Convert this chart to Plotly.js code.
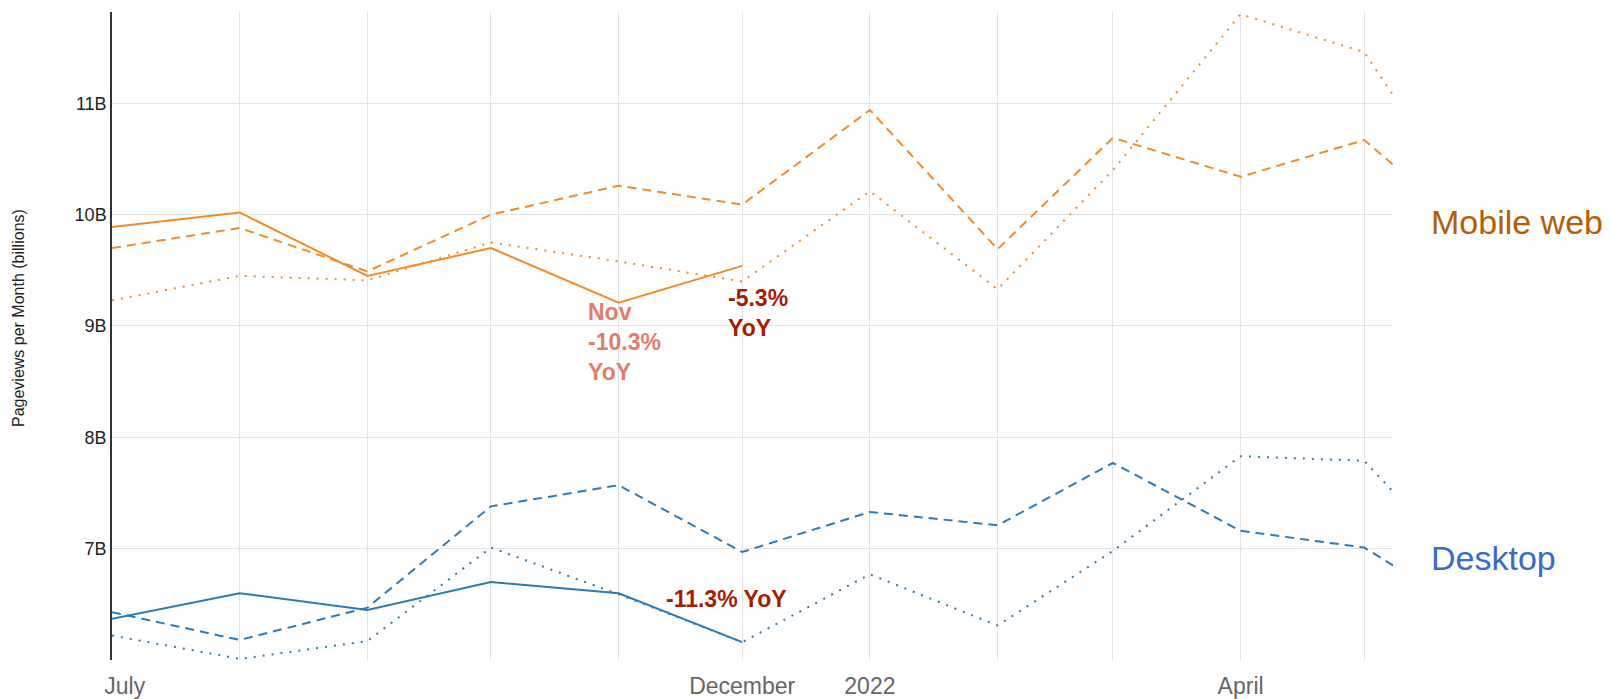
<!DOCTYPE html>
<html>
<head>
<meta charset="utf-8">
<script src="https://cdn.plot.ly/plotly-3.0.1.min.js"></script>
<style>
  html, body { margin: 0; padding: 0; background: #ffffff; }
  #chart { width: 1610px; height: 699px; }
</style>
</head>
<body>
<div id="chart"></div>
<script>
// Months (first of each month); the last entry lies beyond the visible range
const months = ['2021-07-01','2021-08-01','2021-09-01','2021-10-01','2021-11-01','2021-12-01',
                '2022-01-01','2022-02-01','2022-03-01','2022-04-01','2022-05-01','2022-06-01'];

// Pageviews per month, billions
const mobileCurrent  = [9.89, 10.02, 9.45, 9.70, 9.21, 9.54];
const mobilePrevYear = [9.70, 9.88, 9.49, 10.00, 10.26, 10.09, 10.94, 9.69, 10.69, 10.34, 10.67, 9.69];
const mobileTwoYears = [9.23, 9.45, 9.41, 9.75, 9.58, 9.40, 10.21, 9.33, 10.40, 11.80, 11.46, 9.75];

const desktopCurrent  = [6.37, 6.60, 6.45, 6.70, 6.60, 6.16];
const desktopPrevYear = [6.43, 6.18, 6.47, 7.38, 7.57, 6.97, 7.33, 7.21, 7.77, 7.16, 7.01, 6.30];
const desktopTwoYears = [6.22, 6.01, 6.17, 7.01, 6.59, 6.16, 6.77, 6.31, 6.98, 7.83, 7.79, 6.56];

// Axis ticks
const xTickVals = months.slice(0, 11);
const xTickText = ['\u00a0\u00a0\u00a0\u00a0July','','','','','December','2022','','','April',''];
const yTickVals = [7, 8, 9, 10, 11];
const yTickText = ['7B','8B','9B','10B','11B'];

const ORANGE = '#f68a28';
const BLUE = '#2b7bba';
const DOT = '2px,7px';
const DASH = '9px,6px';

function tr(y, color, dash, name) {
  return {
    x: months.slice(0, y.length), y: y, type: 'scatter', mode: 'lines', name: name,
    line: { color: color, width: 2, dash: dash }, hoverinfo: 'x+y+name'
  };
}

const data = [
  tr(mobileTwoYears, ORANGE, DOT, 'Mobile web (two years earlier)'),
  tr(mobilePrevYear, ORANGE, DASH, 'Mobile web (previous year)'),
  tr(mobileCurrent, ORANGE, 'solid', 'Mobile web'),
  tr(desktopTwoYears, BLUE, DOT, 'Desktop (two years earlier)'),
  tr(desktopPrevYear, BLUE, DASH, 'Desktop (previous year)'),
  tr(desktopCurrent, BLUE, 'solid', 'Desktop')
];

const FONT = 'Liberation Sans, Arial, sans-serif';

const layout = {
  width: 1610, height: 699,
  margin: { l: 112, r: 217, t: 12, b: 39, pad: 0 },
  paper_bgcolor: '#ffffff', plot_bgcolor: '#ffffff',
  showlegend: false,
  font: { family: FONT, color: '#222' },
  xaxis: {
    type: 'date',
    range: ['2021-07-01', '2022-05-08'],
    tickvals: xTickVals, ticktext: xTickText,
    showgrid: true, gridcolor: '#e3e3e3', gridwidth: 1,
    zeroline: false, showline: false, ticks: '',
    ticklabelstandoff: 10,
    tickfont: { size: 23, color: '#666666', family: FONT },
    fixedrange: true
  },
  yaxis: {
    range: [6.0, 11.82],
    tickvals: yTickVals, ticktext: yTickText,
    showgrid: true, gridcolor: '#e3e3e3', gridwidth: 1,
    zeroline: false, showline: true, linecolor: '#333333', linewidth: 1.5,
    ticks: '',
    tickfont: { size: 18, color: '#222222', family: FONT },
    automargin: false,
    fixedrange: true
  },
  annotations: [
    { x: -0.073, y: 0.5285, xref: 'paper', yref: 'paper', text: 'Pageviews per Month (billions)', textangle: -90,
      showarrow: false, xanchor: 'center', yanchor: 'middle', font: { size: 16, color: '#222', family: FONT } },
    { x: '2021-11-12', y: 6.552, xref: 'x', yref: 'y', text: '<b>-11.3% YoY</b>', showarrow: false,
      xanchor: 'left', yanchor: 'middle', font: { size: 23, color: '#a61c00', family: FONT } },
    { x: '2021-11-27', y: 9.12, xref: 'x', yref: 'y', text: '<b>-5.3%<br>YoY</b>', showarrow: false,
      xanchor: 'left', yanchor: 'middle', align: 'left', font: { size: 23, color: '#a61c00', family: FONT } },
    { x: '2021-10-24', y: 8.86, xref: 'x', yref: 'y', text: '<b>Nov<br>-10.3%<br>YoY</b>', showarrow: false,
      xanchor: 'left', yanchor: 'middle', align: 'left', font: { size: 23, color: '#e07e6b', family: FONT } },
    { x: 1.028, y: 9.933, xref: 'paper', yref: 'y', text: 'Mobile web', showarrow: false,
      xanchor: 'left', yanchor: 'middle', font: { size: 34, color: '#b45f06', family: FONT } },
    { x: 1.028, y: 6.92, xref: 'paper', yref: 'y', text: 'Desktop', showarrow: false,
      xanchor: 'left', yanchor: 'middle', font: { size: 34, color: '#3a6bc7', family: FONT } }
  ]
};

Plotly.newPlot('chart', data, layout, { displayModeBar: false });
</script>
</body>
</html>
